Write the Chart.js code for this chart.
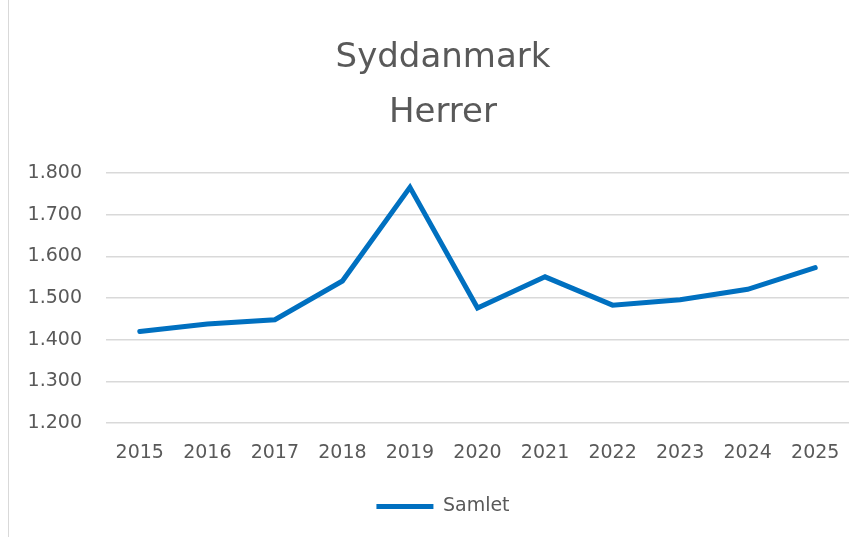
<!DOCTYPE html>
<html>
<head>
<meta charset="utf-8">
<script src="https://cdn.jsdelivr.net/npm/chart.js@4/dist/chart.umd.min.js"></script>
<style>
  html, body { margin: 0; background: #fff; overflow: hidden; }
  #wrap { position: relative; width: 868px; height: 537px; overflow: hidden; }
  #frame { position: absolute; left: 8px; top: 0; width: 0; height: 537px; border-left: 1px solid #d9d9d9; }
  #myChart { position: absolute; left: 0; top: 0; }
</style>
</head>
<body>
<div id="wrap">
  <div id="frame"></div>
  <!-- the chart frame in the reference runs past the right edge, so the canvas does too -->
  <canvas id="myChart" width="886" height="537"></canvas>
</div>
<script>
// data
var years = ['2015', '2016', '2017', '2018', '2019', '2020', '2021', '2022', '2023', '2024', '2025'];
var samlet = [1420, 1438, 1448, 1541, 1766, 1476, 1551, 1483, 1496, 1521, 1573];
var titleLines = ['Syddanmark', 'Herrer'];
var seriesName = 'Samlet';

var grey = '#595959';
var fontName = '"DejaVu Sans", sans-serif';

function danish(v) {
    var s = String(Math.round(v));
    return s.replace(/\B(?=(\d{3})+(?!\d))/g, '.');
}

var ctx = document.getElementById('myChart').getContext('2d');
var myChart = new Chart(ctx, {
    type: 'line',
    data: {
        labels: years,
        datasets: [{
            label: seriesName,
            data: samlet,
            borderColor: '#0070C0',
            backgroundColor: '#0070C0',
            borderWidth: 5,
            borderCapStyle: 'round',
            borderJoinStyle: 'miter',
            pointRadius: 0,
            pointHoverRadius: 0,
            tension: 0
        }]
    },
    options: {
        responsive: false,
        animation: false,
        layout: { padding: { left: 3, right: 3, top: 31, bottom: 11 } },
        plugins: {
            title: {
                display: true,
                text: titleLines,
                color: grey,
                font: { family: fontName, size: 34, weight: 'normal', lineHeight: 1.62 },
                padding: { top: 0, bottom: 32 }
            },
            legend: {
                position: 'bottom',
                labels: {
                    color: grey,
                    font: { family: fontName, size: 19 },
                    usePointStyle: true,
                    pointStyle: 'line',
                    pointStyleWidth: 57,
                    padding: 22
                }
            },
            tooltip: { enabled: false }
        },
        scales: {
            x: {
                offset: true,
                grid: { display: false, drawTicks: false },
                border: { display: false },
                ticks: { color: grey, font: { family: fontName, size: 19 }, padding: 19, maxRotation: 0 },
                afterFit: function (scale) { scale.height = 52; }
            },
            y: {
                min: 1200,
                max: 1800,
                grid: { color: '#d9d9d9', lineWidth: 1.5, drawTicks: false },
                border: { display: false },
                ticks: {
                    stepSize: 100,
                    color: grey,
                    font: { family: fontName, size: 19 },
                    padding: 24,
                    callback: function (v) { return danish(v); }
                },
                afterFit: function (scale) { scale.width = 103; }
            },
            // empty right-hand margin so the title and legend sit centred like the original
            yRight: {
                position: 'right',
                min: 1200,
                max: 1800,
                grid: { display: false, drawTicks: false },
                border: { display: false },
                ticks: { display: false },
                afterFit: function (scale) { scale.width = 34; }
            }
        }
    }
});
</script>
</body>
</html>
